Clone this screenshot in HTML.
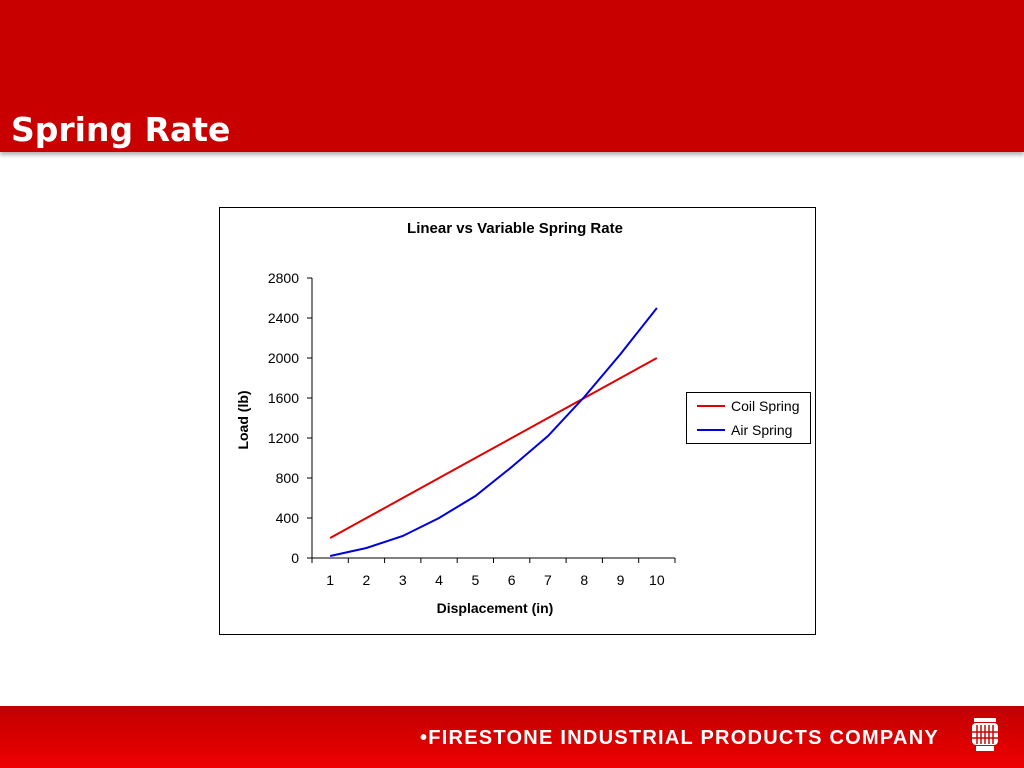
<!DOCTYPE html>
<html><head><meta charset="utf-8">
<style>
html,body{margin:0;padding:0;}
body{width:1024px;height:768px;position:relative;background:#fff;overflow:hidden;font-family:"Liberation Sans",Arial,sans-serif;}
#header{position:absolute;left:0;top:0;width:1024px;height:152px;background:#c80000;box-shadow:0 3px 4px rgba(0,0,0,0.3);}
#title{position:absolute;left:11px;top:110px;color:#fff;font-family:"DejaVu Sans",Verdana,sans-serif;font-weight:bold;font-size:33px;line-height:40px;}
#footer{position:absolute;left:0;top:706px;width:1024px;height:62px;background:linear-gradient(#c00000,#ee0000);}
#footer-text{position:absolute;left:420px;top:727px;color:#fff;font-weight:bold;font-size:20px;letter-spacing:1.25px;white-space:nowrap;}
svg{position:absolute;left:0;top:0;}
</style></head><body>
<div id="header"></div>
<div id="title">Spring Rate</div>
<div id="footer"></div>
<div id="footer-text">•FIRESTONE INDUSTRIAL PRODUCTS COMPANY</div>
<svg width="1024" height="768" id="chart">
  <rect x="219.5" y="207.5" width="596" height="427" fill="#fff" stroke="#000" stroke-width="1"/>
  <text x="515" y="233" text-anchor="middle" font-size="15" font-weight="bold" font-family="Liberation Sans, sans-serif">Linear vs Variable Spring Rate</text>
  <text transform="translate(248,420) rotate(-90)" text-anchor="middle" font-size="14" font-weight="bold" font-family="Liberation Sans, sans-serif">Load (lb)</text>
  <text x="495" y="613" text-anchor="middle" font-size="14" font-weight="bold" font-family="Liberation Sans, sans-serif">Displacement  (in)</text>
  <g id="axes"></g>
  <g id="series"></g>
  <rect x="686.5" y="392.5" width="124" height="51" fill="#fff" stroke="#000"/>
  <line x1="697" y1="406" x2="725" y2="406" stroke="#e00000" stroke-width="2"/>
  <text x="731" y="411" font-size="14" font-family="Liberation Sans, sans-serif">Coil Spring</text>
  <line x1="697" y1="430" x2="725" y2="430" stroke="#0000dd" stroke-width="2"/>
  <text x="731" y="435" font-size="14" font-family="Liberation Sans, sans-serif">Air Spring</text>
  <g fill="#fff">
    <rect x="974" y="718" width="22" height="4"/>
    <rect x="972" y="723" width="26" height="22" rx="4"/>
    <rect x="976" y="746" width="18" height="5"/>
    <g stroke="#d00000" stroke-width="1.5">
      <line x1="977" y1="725" x2="977" y2="744"/><line x1="981" y1="725" x2="981" y2="744"/>
      <line x1="985" y1="725" x2="985" y2="744"/><line x1="989" y1="725" x2="989" y2="744"/>
      <line x1="993" y1="725" x2="993" y2="744"/>
      <line x1="972" y1="732" x2="998" y2="732"/><line x1="972" y1="738" x2="998" y2="738"/>
    </g>
  </g>
</svg>
<script>
const categories = [1,2,3,4,5,6,7,8,9,10];
const coilSpring = [200,400,600,800,1000,1200,1400,1600,1800,2000];
const airSpring = [20,100,220,400,620,910,1220,1610,2040,2500];
const yTicks = [0,400,800,1200,1600,2000,2400,2800];

const NS="http://www.w3.org/2000/svg";
const left=312, right=675, y0=558, yTop=278, yMax=2800;
const band=(right-left)/categories.length;
function xScale(i){return left+band*(i+0.5);}
function yScale(v){return y0-(v/yMax)*(y0-yTop);}
const axes=document.getElementById('axes');
const series=document.getElementById('series');
function mk(tag,attrs,parent){const e=document.createElementNS(NS,tag);for(const k in attrs)e.setAttribute(k,attrs[k]);parent.appendChild(e);return e;}

const ya=mk('line',{x1:left,y1:yTop,x2:left,y2:y0,stroke:'#000'},axes);


const xa=mk('line',{x1:left,y1:y0,x2:right,y2:y0,stroke:'#000'},axes);


yTicks.forEach(v=>{
  const y=yScale(v);
  const t=mk('line',{x1:left-5,y1:y,x2:left,y2:y,stroke:'#000'},axes);
  
  
  const l=mk('text',{x:left-13,y:y+5,'text-anchor':'end','font-size':14,'font-family':'Liberation Sans, sans-serif'},axes);
  l.textContent=v;
  
  
});
for(let i=0;i<=categories.length;i++){
  const x=left+band*i;
  const t=mk('line',{x1:x,y1:y0,x2:x,y2:y0+5,stroke:'#000'},axes);
  
  
}
categories.forEach((c,i)=>{
  const l=mk('text',{x:xScale(i),y:y0+27,'text-anchor':'middle','font-size':14,'font-family':'Liberation Sans, sans-serif'},axes);
  l.textContent=c;
  
  
});
const coil=mk('polyline',{points:coilSpring.map((v,i)=>xScale(i)+','+yScale(v)).join(' '),fill:'none',stroke:'#e00000','stroke-width':2},series);


const air=mk('polyline',{points:airSpring.map((v,i)=>xScale(i)+','+yScale(v)).join(' '),fill:'none',stroke:'#0000dd','stroke-width':2},series);


</script>
</body></html>
